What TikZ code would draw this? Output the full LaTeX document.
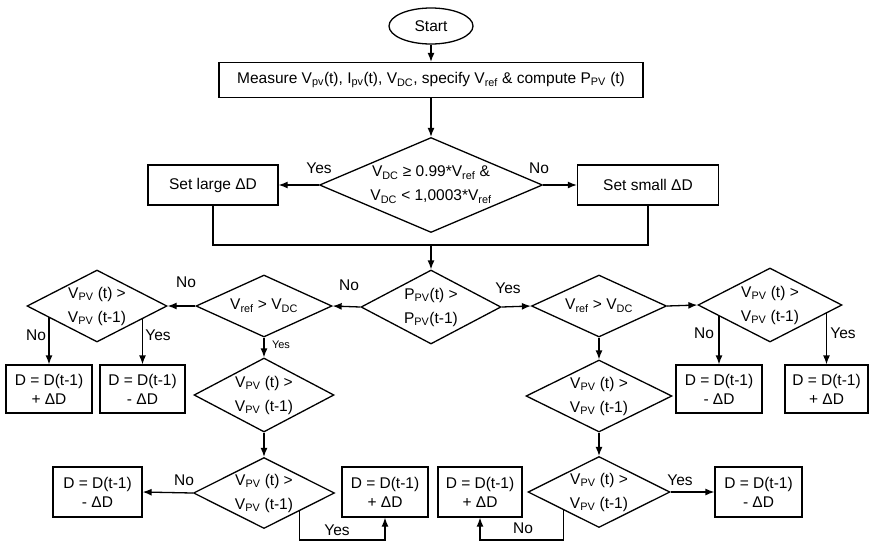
\documentclass[tikz,border=0pt]{standalone}
\usepackage{fontspec}
\setmainfont{Liberation Sans}
\usetikzlibrary{shapes.geometric,arrows.meta,calc}

\begin{document}
\begin{tikzpicture}[x=1pt, y=-1pt, line width=1.3pt,
		font=\fontsize{15.5}{19}\selectfont,
		box/.style={draw, rectangle, align=center, inner sep=0pt},
		decision/.style={draw, diamond, align=center, inner sep=0pt, shape aspect=2,
			font=\fontsize{15.5}{24}\selectfont},
		arr/.style={-{Latex[length=9pt,width=7pt]}},
		lbl/.style={inner sep=0pt}]
	\useasboundingbox (0,0) rectangle (869,542);
	% start, measurement and the first test
	\node[draw, ellipse, minimum width=84pt, minimum height=36pt] (start) at (431,26) {Start};
	\node[box, minimum width=424pt, minimum height=35pt] (measure) at (431,80)
		{Measure V\textsubscript{pv}(t), I\textsubscript{pv}(t), V\textsubscript{DC}, specify V\textsubscript{ref} \& compute P\textsubscript{PV} (t)};
	\node[decision, shape aspect=2.35, minimum width=223pt, minimum height=95pt] (chk) at (431,185)
		{V\textsubscript{DC} ≥ 0.99*V\textsubscript{ref} \&\\ V\textsubscript{DC} < 1,0003*V\textsubscript{ref}};
	\node[box, minimum width=130pt, minimum height=40pt] (large) at (213,185) {Set large ΔD};
	\node[box, minimum width=141pt, minimum height=40pt] (small) at (648,185) {Set small ΔD};
	\coordinate (join) at (431,245);
	% power test and the left branch
	\node[decision, minimum width=140pt, minimum height=74pt] (ppv) at (431,307)
		{P\textsubscript{PV}(t) >\\ P\textsubscript{PV}(t-1)};
	\node[decision, minimum width=136pt, minimum height=62pt] (vrl) at (264,306)
		{V\textsubscript{ref} > V\textsubscript{DC}};
	\node[decision, minimum width=140pt, minimum height=72pt] (lv) at (97,306)
		{V\textsubscript{PV} (t) >\\ V\textsubscript{PV} (t-1)};
	\node[box, minimum width=86pt, minimum height=48pt] (l1) at (49,389) {D = D(t-1)\\ + ΔD};
	\node[box, minimum width=85pt, minimum height=48pt] (l2) at (142.5,389) {D = D(t-1)\\ - ΔD};
	\node[decision, minimum width=140pt, minimum height=74pt] (l3) at (264,395)
		{V\textsubscript{PV} (t) >\\ V\textsubscript{PV} (t-1)};
	\node[decision, minimum width=141pt, minimum height=71pt] (l4) at (264,493)
		{V\textsubscript{PV} (t) >\\ V\textsubscript{PV} (t-1)};
	\node[box, minimum width=89pt, minimum height=50pt] (l5) at (97.5,492) {D = D(t-1)\\ - ΔD};
	\node[box, minimum width=86pt, minimum height=50pt] (l6) at (385,492) {D = D(t-1)\\ + ΔD};
	% the right branch
	\node[decision, minimum width=135pt, minimum height=62pt] (vrr) at (599,306)
		{V\textsubscript{ref} > V\textsubscript{DC}};
	\node[decision, minimum width=144pt, minimum height=74pt] (rv) at (770,305)
		{V\textsubscript{PV} (t) >\\ V\textsubscript{PV} (t-1)};
	\node[box, minimum width=86pt, minimum height=48pt] (r1) at (719,389) {D = D(t-1)\\ - ΔD};
	\node[box, minimum width=83pt, minimum height=48pt] (r2) at (826.5,389) {D = D(t-1)\\ + ΔD};
	\node[decision, minimum width=146pt, minimum height=72pt] (r3) at (599,396)
		{V\textsubscript{PV} (t) >\\ V\textsubscript{PV} (t-1)};
	\node[decision, minimum width=142pt, minimum height=71pt] (r4) at (599,492)
		{V\textsubscript{PV} (t) >\\ V\textsubscript{PV} (t-1)};
	\node[box, minimum width=84pt, minimum height=50pt] (r5) at (480,492) {D = D(t-1)\\ + ΔD};
	\node[box, minimum width=87pt, minimum height=50pt] (r6) at (758.5,492) {D = D(t-1)\\ - ΔD};
	% points on the lower edges of the diamonds
	\coordinate (lvno) at ($(lv.west)!0.31!(lv.south)$);
	\coordinate (lvyes) at ($(lv.east)!0.35!(lv.south)$);
	\coordinate (rvno) at ($(rv.west)!0.29!(rv.south)$);
	\coordinate (rvyes) at ($(rv.east)!0.215!(rv.south)$);
	% connectors
	\draw[arr] (start) -- (measure);
	\draw[arr] (measure) -- (chk);
	\draw[arr] (chk.west) -- (large.east);
	\draw[arr] (chk.east) -- (small.west);
	\draw (large.south) |- (join) -| (small.south);
	\draw[arr] (join) -- (ppv.north);
	\draw[arr] (ppv.west) -- (vrl.east);
	\draw[arr] (vrl.west) -- (lv.east);
	\draw[arr] (l1.north |- lvno) -- (l1.north);
	\draw[arr] (l2.north |- lvyes) -- (l2.north);
	\draw[arr] (vrl.south) -- (l3.north);
	\draw[arr] (l3.south) -- (l4.north);
	\draw[arr] (l4.west) -- (l5.east);
	\draw[arr] (l4.south east) -- ++(0,29) -| (l6.south);
	\draw[arr] (ppv.east) -- (vrr.west);
	\draw[arr] (vrr.east) -- (rv.west);
	\draw[arr] (r1.north |- rvno) -- (r1.north);
	\draw[arr] (r2.north |- rvyes) -- (r2.north);
	\draw[arr] (vrr.south) -- (r3.north);
	\draw[arr] (r3.south) -- (r4.north);
	\draw[arr] (r4.east) -- (r6.west);
	\draw[arr] (r4.south west) -- ++(0,30) -| (r5.south);
	% yes / no labels
	\node[lbl] (yes1) at (319,168) {Yes};
	\node[lbl] (no1) at (539,168) {No};
	\node[lbl] (no2) at (349,285) {No};
	\node[lbl] (yes2) at (508,288) {Yes};
	\node[lbl] (no3) at (186,282) {No};
	\node[lbl, font=\fontsize{11}{13}\selectfont] (yes3) at (281,345) {Yes};
	\node[lbl] (no4) at (36,335) {No};
	\node[lbl] (yes4) at (158,335) {Yes};
	\node[lbl] (no5) at (704,333) {No};
	\node[lbl] (yes5) at (843,333) {Yes};
	\node[lbl] (no6) at (184,480) {No};
	\node[lbl] (yes6) at (337,530) {Yes};
	\node[lbl] (yes7) at (680,480) {Yes};
	\node[lbl] (no7) at (523,528) {No};
\end{tikzpicture}
\end{document}
